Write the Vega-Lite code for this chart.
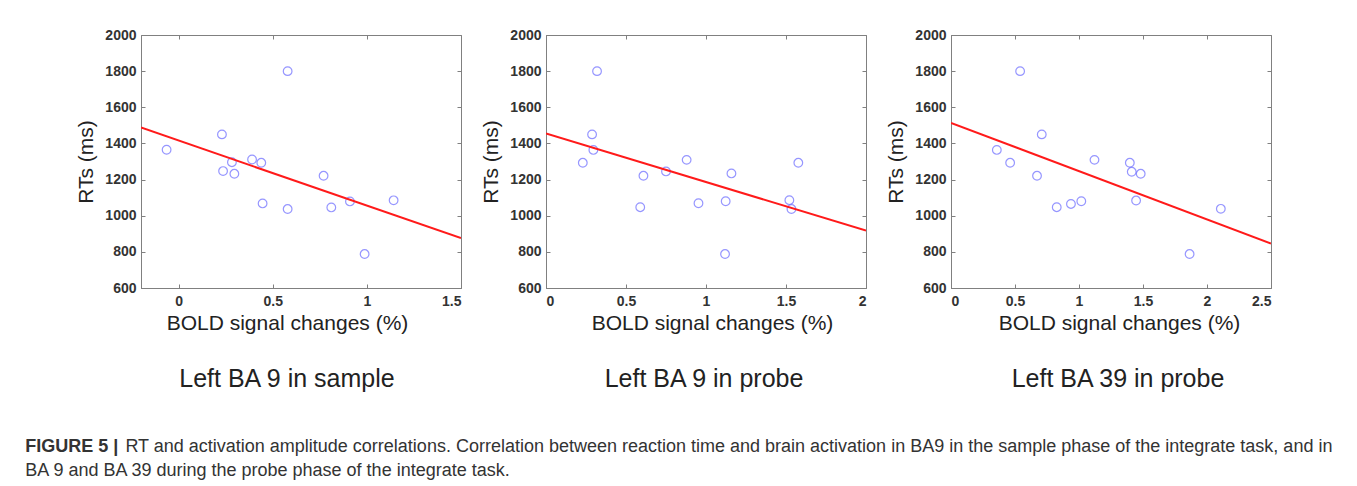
{
  "$schema": "https://vega.github.io/schema/vega-lite/v6.json",
  "background": "white",
  "padding": {"left": 25, "top": 27, "right": 0, "bottom": 0},
  "datasets": {
    "p1": [
      {"x": -0.064, "y": 1365}, {"x": 0.230, "y": 1450}, {"x": 0.236, "y": 1247}, {"x": 0.283, "y": 1296},
      {"x": 0.296, "y": 1232}, {"x": 0.390, "y": 1311}, {"x": 0.439, "y": 1293}, {"x": 0.446, "y": 1068},
      {"x": 0.579, "y": 1800}, {"x": 0.579, "y": 1037}, {"x": 0.770, "y": 1221}, {"x": 0.811, "y": 1046},
      {"x": 0.910, "y": 1079}, {"x": 0.988, "y": 788}, {"x": 1.142, "y": 1085}
    ],
    "l1": [{"x": -0.2, "y": 1488}, {"x": 1.5, "y": 876}],
    "p2": [
      {"x": 0.230, "y": 1293}, {"x": 0.288, "y": 1450}, {"x": 0.296, "y": 1364}, {"x": 0.319, "y": 1800},
      {"x": 0.589, "y": 1047}, {"x": 0.609, "y": 1221}, {"x": 0.750, "y": 1245}, {"x": 0.879, "y": 1309},
      {"x": 0.953, "y": 1069}, {"x": 1.123, "y": 1080}, {"x": 1.119, "y": 788}, {"x": 1.159, "y": 1234},
      {"x": 1.521, "y": 1086}, {"x": 1.534, "y": 1037}, {"x": 1.577, "y": 1293}
    ],
    "l2": [{"x": 0, "y": 1455}, {"x": 2, "y": 918}],
    "p3": [
      {"x": 0.358, "y": 1364}, {"x": 0.462, "y": 1293}, {"x": 0.540, "y": 1800}, {"x": 0.672, "y": 1221},
      {"x": 0.709, "y": 1450}, {"x": 0.826, "y": 1047}, {"x": 0.937, "y": 1065}, {"x": 1.018, "y": 1080},
      {"x": 1.121, "y": 1309}, {"x": 1.397, "y": 1293}, {"x": 1.412, "y": 1243}, {"x": 1.482, "y": 1232},
      {"x": 1.446, "y": 1084}, {"x": 1.864, "y": 788}, {"x": 2.108, "y": 1038}
    ],
    "l3": [{"x": 0, "y": 1514}, {"x": 2.5, "y": 846}]
  },
  "spacing": 85,
  "bounds": "flush",
  "title": {
    "text": "FIGURE 5 |",
    "subtitle": [
      "\u200b\u00a0\u00a0\u00a0\u00a0\u00a0\u00a0\u00a0\u00a0\u00a0\u00a0\u00a0\u00a0\u00a0\u00a0\u00a0\u00a0\u00a0\u00a0\u00a0\u00a0RT and activation amplitude correlations. Correlation between reaction time and brain activation in BA9 in the sample phase of the integrate task, and in",
      "BA 9 and BA 39 during the probe phase of the integrate task."
    ],
    "orient": "bottom",
    "anchor": "start",
    "frame": "bounds",
    "dx": -50,
    "offset": 45,
    "font": "Liberation Sans",
    "fontSize": 18,
    "fontWeight": "bold",
    "color": "#333333",
    "subtitleFont": "Liberation Sans",
    "subtitleFontSize": 18,
    "subtitleFontWeight": "normal",
    "subtitleColor": "#333333",
    "subtitleLineHeight": 24,
    "subtitlePadding": -18
  },
  "hconcat": [
    {
      "width": 320, "height": 253,
      "title": {"text": "Left BA 9 in sample", "orient": "bottom", "anchor": "middle", "frame": "group", "offset": 34, "dx": -14},
      "resolve": {"axis": {"x": "independent", "y": "independent"}},
      "layer": [
        {
          "data": {"name": "p1"},
          "mark": {"type": "point", "shape": "circle", "filled": false, "color": "#6b6bff", "size": 75, "strokeWidth": 1.2},
          "encoding": {
            "x": {"field": "x", "type": "quantitative", "scale": {"domain": [-0.2, 1.5], "nice": false, "zero": false},
                  "axis": {"values": [0, 0.5, 1, 1.5], "format": "~g", "title": "BOLD signal changes (%)", "titleX": 146}},
            "y": {"field": "y", "type": "quantitative", "scale": {"domain": [600, 2000], "nice": false, "zero": false},
                  "axis": {"values": [600, 800, 1000, 1200, 1400, 1600, 1800, 2000], "format": "d", "title": "RTs (ms)"}}
          }
        },
        {
          "data": {"name": "l1"},
          "mark": {"type": "line", "color": "#ff1a1a", "strokeWidth": 2, "clip": true},
          "encoding": {
            "x": {"field": "x", "type": "quantitative", "axis": {"orient": "top", "values": [0, 0.5, 1, 1.5], "labels": false, "title": null, "domain": false}},
            "y": {"field": "y", "type": "quantitative", "axis": {"orient": "right", "values": [600, 800, 1000, 1200, 1400, 1600, 1800, 2000], "labels": false, "title": null, "domain": false}}
          }
        }
      ]
    },
    {
      "width": 320, "height": 253,
      "title": {"text": "Left BA 9 in probe", "orient": "bottom", "anchor": "middle", "frame": "group", "offset": 34, "dx": -2},
      "resolve": {"axis": {"x": "independent", "y": "independent"}},
      "layer": [
        {
          "data": {"name": "p2"},
          "mark": {"type": "point", "shape": "circle", "filled": false, "color": "#6b6bff", "size": 75, "strokeWidth": 1.2},
          "encoding": {
            "x": {"field": "x", "type": "quantitative", "scale": {"domain": [0, 2], "nice": false, "zero": false},
                  "axis": {"values": [0, 0.5, 1, 1.5, 2], "format": "~g", "title": "BOLD signal changes (%)", "titleX": 166}},
            "y": {"field": "y", "type": "quantitative", "scale": {"domain": [600, 2000], "nice": false, "zero": false},
                  "axis": {"values": [600, 800, 1000, 1200, 1400, 1600, 1800, 2000], "format": "d", "title": "RTs (ms)"}}
          }
        },
        {
          "data": {"name": "l2"},
          "mark": {"type": "line", "color": "#ff1a1a", "strokeWidth": 2, "clip": true},
          "encoding": {
            "x": {"field": "x", "type": "quantitative", "axis": {"orient": "top", "values": [0, 0.5, 1, 1.5, 2], "labels": false, "title": null, "domain": false}},
            "y": {"field": "y", "type": "quantitative", "axis": {"orient": "right", "values": [600, 800, 1000, 1200, 1400, 1600, 1800, 2000], "labels": false, "title": null, "domain": false}}
          }
        }
      ]
    },
    {
      "width": 320, "height": 253,
      "title": {"text": "Left BA 39 in probe", "orient": "bottom", "anchor": "middle", "frame": "group", "offset": 34, "dx": 7},
      "resolve": {"axis": {"x": "independent", "y": "independent"}},
      "layer": [
        {
          "data": {"name": "p3"},
          "mark": {"type": "point", "shape": "circle", "filled": false, "color": "#6b6bff", "size": 75, "strokeWidth": 1.2},
          "encoding": {
            "x": {"field": "x", "type": "quantitative", "scale": {"domain": [0, 2.5], "nice": false, "zero": false},
                  "axis": {"values": [0, 0.5, 1, 1.5, 2, 2.5], "format": "~g", "title": "BOLD signal changes (%)", "titleX": 168}},
            "y": {"field": "y", "type": "quantitative", "scale": {"domain": [600, 2000], "nice": false, "zero": false},
                  "axis": {"values": [600, 800, 1000, 1200, 1400, 1600, 1800, 2000], "format": "d", "title": "RTs (ms)"}}
          }
        },
        {
          "data": {"name": "l3"},
          "mark": {"type": "line", "color": "#ff1a1a", "strokeWidth": 2, "clip": true},
          "encoding": {
            "x": {"field": "x", "type": "quantitative", "axis": {"orient": "top", "values": [0, 0.5, 1, 1.5, 2, 2.5], "labels": false, "title": null, "domain": false}},
            "y": {"field": "y", "type": "quantitative", "axis": {"orient": "right", "values": [600, 800, 1000, 1200, 1400, 1600, 1800, 2000], "labels": false, "title": null, "domain": false}}
          }
        }
      ]
    }
  ],
  "config": {
    "view": {"stroke": "#808080", "strokeWidth": 1},
    "title": {"font": "Liberation Sans", "fontSize": 25, "fontWeight": "normal", "color": "#222222"},
    "axis": {
      "grid": false,
      "domainColor": "#808080",
      "tickColor": "#808080",
      "tickSize": -4,
      "labelFont": "Liberation Sans",
      "labelFontSize": 14,
      "labelFontWeight": "bold",
      "labelColor": "#333333",
      "titleFont": "Liberation Sans",
      "titleFontSize": 21,
      "titleFontWeight": "normal",
      "titleColor": "#222222"
    },
    "axisX": {"labelPadding": 10, "titlePadding": 4},
    "axisY": {"labelPadding": 9, "titlePadding": 8, "labelFlush": false},
    "axisTop": {"labelPadding": 10},
    "axisRight": {"labelPadding": 9}
  }
}
